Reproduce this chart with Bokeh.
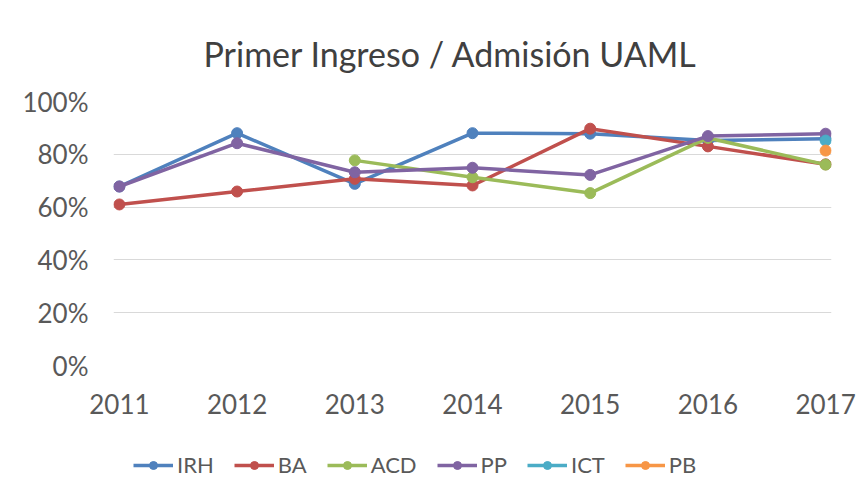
import math
from bokeh.plotting import figure
from bokeh.layouts import column
from bokeh.models import Range1d, FixedTicker, NumeralTickFormatter, Legend, LegendItem
from bokeh.embed import file_html
from bokeh.resources import INLINE

NaN = float("nan")
years = [2011, 2012, 2013, 2014, 2015, 2016, 2017]
irh = [0.678, 0.880, 0.688, 0.880, 0.878, 0.852, 0.859]
ba = [0.610, 0.659, 0.707, 0.682, 0.897, 0.830, 0.762]
acd = [NaN, NaN, 0.777, 0.713, 0.653, 0.862, 0.761]
pp = [0.678, 0.842, 0.732, 0.749, 0.722, 0.869, 0.878]
ict = [NaN, NaN, NaN, NaN, NaN, NaN, 0.852]
pb = [NaN, NaN, NaN, NaN, NaN, NaN, 0.814]
series_names = ["IRH", "BA", "ACD", "PP", "ICT", "PB"]
series_values = [irh, ba, acd, pp, ict, pb]
colors = ["#4F81BD", "#C0504D", "#9BBB59", "#8064A2", "#4BACC6", "#F79646"]
y_ticks = [0, 0.2, 0.4, 0.6, 0.8, 1.0]

FONT = "Lato"
TXT = "#595959"

p = figure(frame_width=718, frame_height=264, output_backend="svg", toolbar_location=None,
           x_range=Range1d(2010.95, 2017.05), y_range=Range1d(0, 1.0),
           min_border_left=113, min_border_right=34, min_border_top=101, min_border_bottom=65,
           title="Primer Ingreso / Admisión UAML")
p.outline_line_color = None
p.title.align = "left"
p.title.offset = 90
p.title.text_font = FONT
p.title.text_font_size = "34px"
p.title.text_font_style = "normal"
p.title.text_color = "#404040"
p.title.standoff = 55

p.xgrid.grid_line_color = None
p.ygrid.grid_line_color = "#d9d9d9"
p.ygrid.grid_line_width = 1

p.xaxis.ticker = FixedTicker(ticks=years)
p.yaxis.ticker = FixedTicker(ticks=y_ticks)
p.yaxis.formatter = NumeralTickFormatter(format="0%")
for ax in (p.xaxis[0], p.yaxis[0]):
    ax.axis_line_color = None
    ax.major_tick_line_color = None
    ax.minor_tick_line_color = None
    ax.major_tick_out = 0
    ax.major_label_text_font = FONT
    ax.major_label_text_font_size = "26px"
    ax.major_label_text_color = TXT
p.yaxis.major_label_standoff = 25
p.xaxis.major_label_standoff = 28

for name, vals, c in zip(series_names, series_values, colors):
    p.line(years, vals, line_color=c, line_width=3.5)
    p.scatter(years, vals, size=11, fill_color=c, line_color=c)

# legend strip below the chart (its series lie outside its own ranges, so only the legend shows)
lg = figure(frame_width=867, frame_height=66, output_backend="svg", toolbar_location=None,
            x_axis_type=None, y_axis_type=None, min_border=0,
            x_range=Range1d(0, 1), y_range=Range1d(0, 1))
lg.outline_line_color = None
lg.xgrid.grid_line_color = None
lg.ygrid.grid_line_color = None
items = []
for name, vals, c in zip(series_names, series_values, colors):
    r1 = lg.line(years, vals, line_color=c, line_width=3.5)
    r2 = lg.scatter(years, vals, size=11, fill_color=c, line_color=c)
    items.append(LegendItem(label=name, renderers=[r1, r2]))
legend = Legend(items=items, orientation="horizontal", location=(133, 18),
                label_text_font=FONT, label_text_font_size="22px", label_text_color=TXT,
                glyph_width=40, label_standoff=4, spacing=20, border_line_color=None,
                background_fill_alpha=0, margin=0, padding=2)
lg.add_layout(legend)

layout = column(p, lg, spacing=0)
open("out.html", "w").write(file_html(layout, INLINE))
